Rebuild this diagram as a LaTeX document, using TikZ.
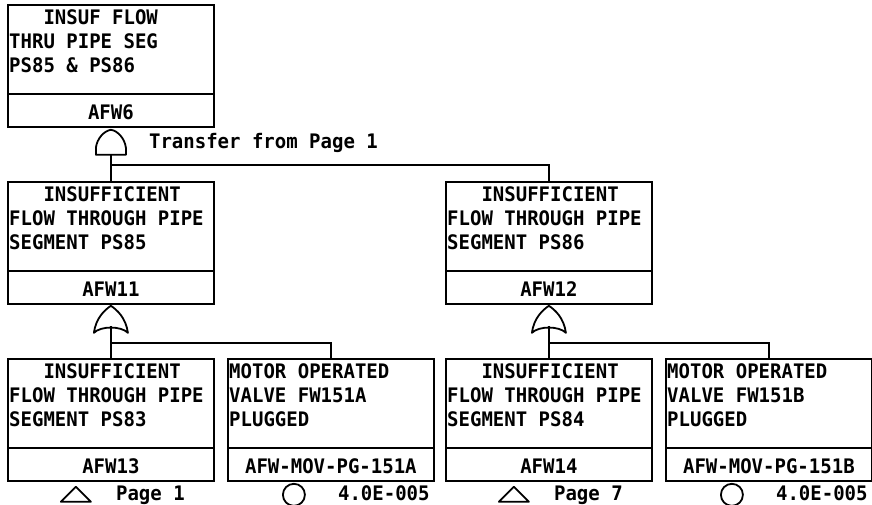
\documentclass[tikz,border=0pt]{standalone}
\usepackage{fontspec}
\newfontfamily\ftmono[FakeStretch=0.95]{DejaVu Sans Mono}
\usetikzlibrary{calc}
\tikzset{
  evbox/.style={draw, line width=1.8pt, minimum width=206pt, minimum height=122pt, inner sep=0pt, anchor=north west},
  boxline/.style={line width=1.8pt},
  wire/.style={line width=1.8pt},
  gateline/.style={line width=1.8pt, line join=round},
  desc/.style={anchor=north west, inner sep=0pt, align=left, font=\ftmono\bfseries\fontsize{20}{24}\selectfont},
  idtext/.style={anchor=base, inner sep=0pt, font=\ftmono\bfseries\fontsize{20}{24}\selectfont},
  lbl/.style={inner sep=0pt, font=\ftmono\bfseries\fontsize{20}{24}\selectfont},
  andgate/.pic={\draw[gateline] (-15,27) -- (-15,20) .. controls (-14,11) and (-7,3) .. (0,2) .. controls (7,3) and (14,11) .. (15,20) -- (15,27) -- cycle;},
  orgate/.pic={\draw[gateline] (0,1) .. controls (-6,5) and (-15,13) .. (-17,28) .. controls (-10,21) and (10,21) .. (17,28) .. controls (15,13) and (6,5) .. (0,1) -- cycle;},
  xfer/.pic={\draw[gateline] (0,0) -- (15,15) -- (-15,15) -- cycle;}
}
\begin{document}
\begin{tikzpicture}[x=1pt,y=-1pt]
\useasboundingbox (0,0) rectangle (872,505);
% boxes
\node[evbox] (b6) at (7,4) {};
\node[evbox] (b11) at (7,181) {};
\node[evbox] (b12) at (445,181) {};
\node[evbox] (b13) at (7,358) {};
\node[evbox] (bA) at (227,358) {};
\node[evbox] (b14) at (445,358) {};
\node[evbox] (bB) at (665,358) {};
% dividers
\foreach \b in {b6,b11,b12,b13,bA,b14,bB}{
  \draw[boxline] ($(\b.south west)+(0,-34)$) -- ($(\b.south east)+(0,-34)$);
}
% descriptions
\node[desc] (t6) at ($(b6.north west)+(2,5)$) {\hphantom{XXX}INSUF FLOW\\THRU PIPE SEG\\PS85 \& PS86};
\node[desc] (t11) at ($(b11.north west)+(2,5)$) {\hphantom{XXX}INSUFFICIENT\\FLOW THROUGH PIPE\\SEGMENT PS85};
\node[desc] (t12) at ($(b12.north west)+(2,5)$) {\hphantom{XXX}INSUFFICIENT\\FLOW THROUGH PIPE\\SEGMENT PS86};
\node[desc] (t13) at ($(b13.north west)+(2,5)$) {\hphantom{XXX}INSUFFICIENT\\FLOW THROUGH PIPE\\SEGMENT PS83};
\node[desc] (tA) at ($(bA.north west)+(2,5)$) {MOTOR OPERATED\\VALVE FW151A\\PLUGGED};
\node[desc] (t14) at ($(b14.north west)+(2,5)$) {\hphantom{XXX}INSUFFICIENT\\FLOW THROUGH PIPE\\SEGMENT PS84};
\node[desc] (tB) at ($(bB.north west)+(2,5)$) {MOTOR OPERATED\\VALVE FW151B\\PLUGGED};
% ids
\node[idtext] (i6) at ($(b6.south)+(0,-8)$) {AFW6};
\node[idtext] (i11) at ($(b11.south)+(0,-8)$) {AFW11};
\node[idtext] (i12) at ($(b12.south)+(0,-8)$) {AFW12};
\node[idtext] (i13) at ($(b13.south)+(0,-8)$) {AFW13};
\node[idtext] (iA) at ($(bA.south)+(0,-8)$) {AFW-MOV-PG-151A};
\node[idtext] (i14) at ($(b14.south)+(0,-8)$) {AFW14};
\node[idtext] (iB) at ($(bB.south)+(0,-8)$) {AFW-MOV-PG-151B};
% gates
\pic at (b6.south) {andgate};
\pic at (b11.south) {orgate};
\pic at (b12.south) {orgate};
\coordinate (g6) at ($(b6.south)+(0,27)$);
\coordinate (j6) at ($(b6.south)+(0,37)$);
\coordinate (g11) at ($(b11.south)+(0,21)$);
\coordinate (j11) at ($(b11.south)+(0,38)$);
\coordinate (g12) at ($(b12.south)+(0,21)$);
\coordinate (j12) at ($(b12.south)+(0,38)$);
\node[lbl, anchor=base west] (xf6) at ($(b6.south)+(38,21)$) {Transfer from Page 1};
% connectors
\draw[wire] (g6) -- (b11.north);
\draw[wire] (j6) -| (b12.north);
\draw[wire] (g11) -- (b13.north);
\draw[wire] (j11) -| (bA.north);
\draw[wire] (g12) -- (b14.north);
\draw[wire] (j12) -| (bB.north);
% transfers and basic events
\pic at ($(b13.south)+(-35,5)$) {xfer};
\node[lbl, anchor=base west] (p13) at ($(b13.south)+(5,19)$) {Page 1};
\pic at ($(b14.south)+(-35,5)$) {xfer};
\node[lbl, anchor=base west] (p14) at ($(b14.south)+(5,19)$) {Page 7};
\draw[gateline] ($(bA.south)+(-37,13)$) circle[radius=11pt];
\node[lbl, anchor=base east] (vA) at ($(bA.south east)+(-5,19)$) {4.0E-005};
\draw[gateline] ($(bB.south)+(-37,13)$) circle[radius=11pt];
\node[lbl, anchor=base east] (vB) at ($(bB.south east)+(-5,19)$) {4.0E-005};
\end{tikzpicture}
\end{document}
